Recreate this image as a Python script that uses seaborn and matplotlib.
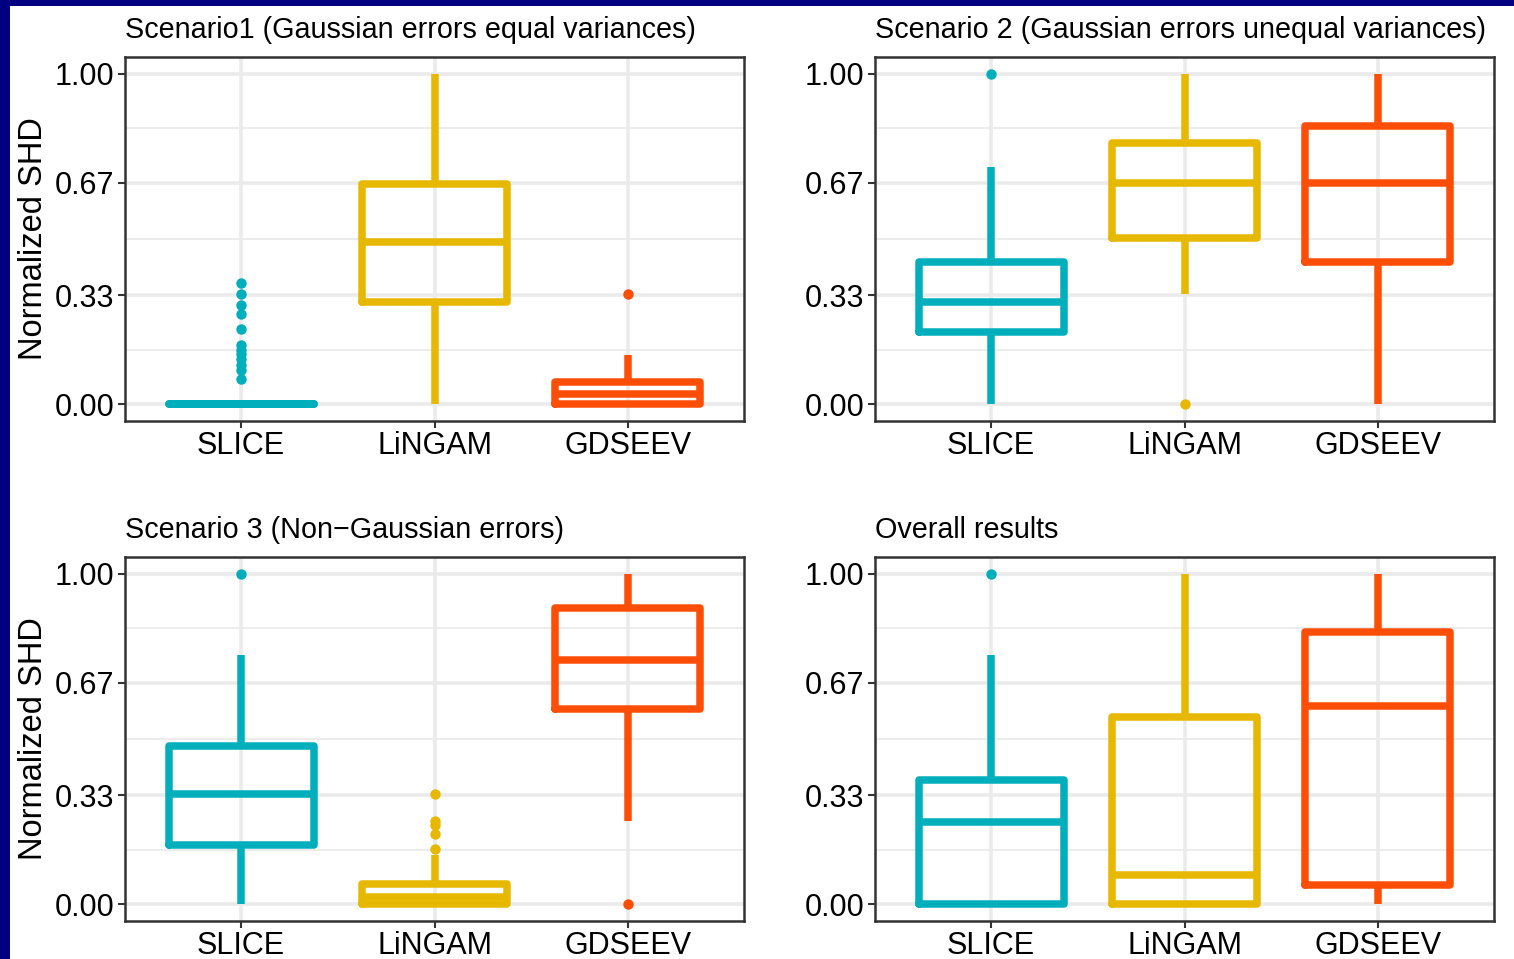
import numpy as np
import pandas as pd
import matplotlib
matplotlib.use("Agg")
import matplotlib.pyplot as plt
import seaborn as sns
from matplotlib.patches import Rectangle

# ---------------- data ----------------
methods = ["SLICE", "LiNGAM", "GDSEEV"]
palette = ["#00AFBB", "#E7B800", "#FC4E07"]
titles = [
    "Scenario1 (Gaussian errors equal variances)",
    "Scenario 2 (Gaussian errors unequal variances)",
    "Scenario 3 (Non\u2212Gaussian errors)",
    "Overall results",
]
y_ticks = [0.0, 0.33, 0.67, 1.0]
y_ticklabels = ["0.00", "0.33", "0.67", "1.00"]

# per method: [lower whisker, Q1, median, Q3, upper whisker]
s1_stats = [[0.0, 0.0, 0.0, 0.0, 0.0],
            [0.0, 0.31, 0.49, 0.667, 1.0],
            [0.0, 0.0, 0.033, 0.067, 0.15]]
s1_out = [[0.078, 0.105, 0.12, 0.136, 0.151, 0.166, 0.181, 0.229, 0.273, 0.301, 0.333, 0.367],
          [],
          [0.333]]

s2_stats = [[0.0, 0.218, 0.309, 0.429, 0.718],
            [0.334, 0.502, 0.669, 0.791, 1.0],
            [0.0, 0.432, 0.669, 0.840, 1.0]]
s2_out = [[1.0], [0.0], []]

s3_stats = [[0.0, 0.180, 0.333, 0.478, 0.753],
            [0.0, 0.0, 0.023, 0.063, 0.148],
            [0.251, 0.590, 0.739, 0.895, 1.0]]
s3_out = [[1.0], [0.169, 0.213, 0.241, 0.251, 0.333], [0.0]]

s4_stats = [[0.0, 0.0, 0.250, 0.376, 0.753],
            [0.0, 0.0, 0.089, 0.566, 1.0],
            [0.0, 0.059, 0.600, 0.824, 1.0]]
s4_out = [[1.0], [], []]

panels = [(s1_stats, s1_out), (s2_stats, s2_out), (s3_stats, s3_out), (s4_stats, s4_out)]


def expand(stats, outliers, block=40):
    """Rebuild a sample whose Tukey boxplot reproduces the given summary."""
    wlo, q1, med, q3, whi = stats
    low = [o for o in outliers if o < q1] + [wlo]
    high = [whi] + [o for o in outliers if o >= q1]
    n = max(len(low), len(high))
    low = [wlo] * (n - len(low)) + low
    high = high + [whi] * (n - len(high))
    return low + [q1] * block + [med] * block + [q3] * block + high


def frame_for(stats_list, out_list):
    rows = []
    for m, st, ou in zip(methods, stats_list, out_list):
        for v in expand(st, ou):
            rows.append((m, v))
    return pd.DataFrame(rows, columns=["method", "value"])


# ---------------- style ----------------
sns.set_theme(style="white")
plt.rcParams["font.family"] = ["Liberation Sans", "DejaVu Sans"]

W, H = 1514, 959
fig = plt.figure(figsize=(W / 100, H / 100), dpi=100, facecolor="#000080")
fig.patches.append(Rectangle((10 / W, 0), 1, 1 - 6 / H, transform=fig.transFigure,
                             facecolor="white", edgecolor="none", zorder=-10))

ax_w = 619 / W
ax_h = 364 / H
lefts = [125 / W, 875 / W]
bottoms = [1 - 421 / H, 1 - 921 / H]

FS_TITLE = 20.7
FS_TICK = 22
FS_LABEL = 23.5
for i, (st, ou) in enumerate(panels):
    r, c = divmod(i, 2)
    ax = fig.add_axes([lefts[c], bottoms[r], ax_w, ax_h])
    ax.set_facecolor("white")
    df = frame_for(st, ou)
    sns.boxplot(data=df, x="method", y="value", hue="method", order=methods,
                hue_order=methods, palette=palette, fill=False, legend=False,
                width=0.75, linewidth=5.4, showcaps=False, saturation=1,
                whiskerprops={"solid_capstyle": "butt"},
                medianprops={"solid_capstyle": "butt"},
                flierprops={"marker": "o", "markersize": 7.5, "markeredgewidth": 0},
                ax=ax, zorder=3)
    for p in ax.patches:
        p.set_facecolor("white")
    for ln in ax.lines:
        if ln.get_marker() == "o":
            ln.set_markerfacecolor(ln.get_markeredgecolor() if ln.get_markeredgecolor() != "none" else ln.get_color())
    ax.set_xlim(-0.6, 2.6)
    ax.set_ylim(-0.05, 1.05)
    ax.set_yticks(y_ticks)
    ax.set_yticklabels(y_ticklabels)
    ax.set_yticks([0.165, 0.5, 0.835], minor=True)
    ax.set_xticks(range(len(methods)))
    ax.set_xticklabels(methods)
    ax.grid(True, which="major", color="#EBEBEB", linewidth=2.6, zorder=0)
    ax.grid(True, which="minor", axis="y", color="#EBEBEB", linewidth=1.3, zorder=0)
    ax.set_axisbelow(True)
    ax.tick_params(axis="both", which="major", labelsize=FS_TICK, length=5, width=1.5,
                   color="#333333", labelcolor="black", pad=2.5, bottom=True, left=True)
    ax.tick_params(axis="y", which="minor", length=0)
    for sp in ax.spines.values():
        sp.set_color("#333333")
        sp.set_linewidth(1.8)
        sp.set_zorder(5)
    ax.set_xlabel("")
    if c == 0:
        ax.set_ylabel("Normalized SHD", fontsize=FS_LABEL, color="black", labelpad=4)
    else:
        ax.set_ylabel("")
    ax.set_title(titles[i], loc="left", fontsize=FS_TITLE, color="black", pad=14)

fig.savefig("out.png", dpi=100, facecolor=fig.get_facecolor())
